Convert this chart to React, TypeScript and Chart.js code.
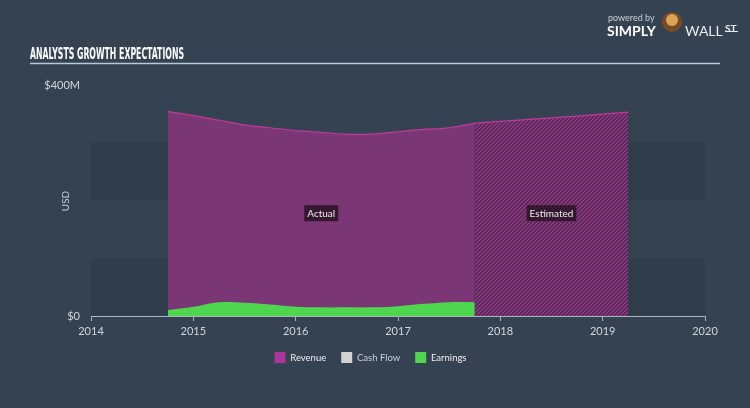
import React, { useEffect, useRef } from "react";
import { Chart, registerables } from "chart.js";
Chart.register(...registerables);

// ---- data (values in USD millions) ----
const actualYears = [2014.75, 2015.0, 2015.25, 2015.5, 2015.75, 2016.0, 2016.25, 2016.5, 2016.75, 2017.0, 2017.25, 2017.5, 2017.75];
const revenueActual = [354, 347, 339, 331, 326, 321, 318, 315, 315, 319, 323, 326, 334];
const earningsActual = [10, 16, 24, 23, 20, 16, 15, 15, 15, 17, 21, 24, 24];
const estimateYears = [2017.75, 2018.25, 2018.75, 2019.25];
const revenueEstimate = [334, 340, 346, 353];
const xTickYears = [2014, 2015, 2016, 2017, 2018, 2019, 2020];
const yTickValues = [0, 400];
const yTickLabels = ["$0", "$400M"];
const bandRanges = [[0, 100], [200, 300]];
const annotationLabels = ["Actual", "Estimated"];
const annotationYears = [2016.25, 2018.5];
const annotationValues = [178, 178];
const legendNames = ["Revenue", "Cash Flow", "Earnings"];
const legendColors = ["#aa369d", "#d2d2d2", "#4fd64f"];

const BG = "#344252";

function makeHatch(): CanvasPattern | string {
  const c = document.createElement("canvas");
  c.width = 4;
  c.height = 4;
  const g = c.getContext("2d");
  if (!g) return "#5a2c5a";
  g.fillStyle = "#4e2a52";
  g.fillRect(0, 0, 4, 4);
  g.strokeStyle = "#a83a93";
  g.lineWidth = 1.2;
  g.beginPath();
  g.moveTo(-1, 5);
  g.lineTo(5, -1);
  g.moveTo(-1, 1);
  g.lineTo(1, -1);
  g.moveTo(3, 5);
  g.lineTo(5, 3);
  g.stroke();
  const p = g.createPattern(c, "repeat");
  return p || "#5a2c5a";
}

const decorPlugin = {
  id: "decor",
  beforeDraw(chart: any) {
    const ctx = chart.ctx;
    const w = chart.width;
    const h = chart.height;
    ctx.save();
    ctx.fillStyle = BG;
    ctx.fillRect(0, 0, w, h);
    // title (condensed)
    ctx.save();
    ctx.fillStyle = "#ffffff";
    ctx.font = "bold 15px 'DejaVu Sans Condensed', 'Liberation Sans', sans-serif";
    ctx.textBaseline = "alphabetic";
    ctx.textAlign = "left";
    const title = "ANALYSTS GROWTH EXPECTATIONS";
    const tw = ctx.measureText(title).width;
    ctx.translate(30, 58.5);
    ctx.scale(154 / tw, 1);
    ctx.fillText(title, 0, 0);
    ctx.restore();
    ctx.strokeStyle = "#b9c9da";
    ctx.lineWidth = 1.5;
    ctx.beginPath();
    ctx.moveTo(30, 63.5);
    ctx.lineTo(720, 63.5);
    ctx.stroke();
    // logo
    ctx.fillStyle = "#c9d0d8";
    ctx.font = "9px Lato, sans-serif";
    ctx.fillText("powered by", 608, 18);
    ctx.fillStyle = "#ffffff";
    ctx.font = "bold 14px Lato, sans-serif";
    ctx.fillText("SIMPLY", 607, 31);
    ctx.fillStyle = "#7a4a24";
    ctx.beginPath();
    ctx.arc(672, 22, 10, 0, Math.PI * 2);
    ctx.fill();
    ctx.fillStyle = "#d9a55a";
    ctx.beginPath();
    ctx.arc(672, 20, 6, 0, Math.PI * 2);
    ctx.fill();
    ctx.fillStyle = "#e8ecf0";
    ctx.font = "14px Lato, sans-serif";
    ctx.fillText("WALL", 685, 31);
    ctx.font = "bold 10px Lato, sans-serif";
    ctx.fillText("ST", 725, 29);
    ctx.fillRect(725, 31, 13, 1);
    // USD axis title
    ctx.translate(66, 201);
    ctx.rotate(-Math.PI / 2);
    ctx.fillStyle = "#c8d0d8";
    ctx.font = "10px Lato, sans-serif";
    ctx.textAlign = "center";
    ctx.textBaseline = "middle";
    ctx.fillText("USD", 0, 0);
    ctx.restore();
  },
  beforeDatasetsDraw(chart: any) {
    const ctx = chart.ctx;
    const ys = chart.scales.y;
    const area = chart.chartArea;
    ctx.save();
    ctx.fillStyle = "rgba(30,40,52,0.18)";
    bandRanges.forEach(([a, b]) => {
      const y1 = ys.getPixelForValue(b);
      const y0 = ys.getPixelForValue(a);
      ctx.fillRect(area.left, y1, area.right - area.left, y0 - y1);
    });
    ctx.restore();
  },
  afterDatasetsDraw(chart: any) {
    const ctx = chart.ctx;
    const xs = chart.scales.x;
    const ys = chart.scales.y;
    ctx.save();
    ctx.font = "10px Lato, sans-serif";
    ctx.textAlign = "center";
    ctx.textBaseline = "middle";
    annotationLabels.forEach((t, i) => {
      const cx = xs.getPixelForValue(annotationYears[i]);
      const cy = ys.getPixelForValue(annotationValues[i]);
      const tw = ctx.measureText(t).width;
      ctx.fillStyle = "#35182f";
      ctx.fillRect(cx - tw / 2 - 3, cy - 8, tw + 6, 16);
      ctx.fillStyle = "#eeeeee";
      ctx.fillText(t, cx, cy + 0.5);
    });
    ctx.restore();
  },
};

export default function App() {
  const ref = useRef<HTMLCanvasElement | null>(null);
  useEffect(() => {
    if (!ref.current) return;
    const pts = (xs: number[], ys: number[]) => xs.map((x, i) => ({ x, y: ys[i] }));
    const chart = new Chart(ref.current, {
      type: "line",
      data: {
        datasets: [
          {
            label: "Earnings",
            data: pts(actualYears, earningsActual),
            backgroundColor: "#4fd64f",
            borderColor: "#4fd64f",
            borderWidth: 0,
            fill: "origin",
            pointRadius: 0,
            tension: 0.35,
            order: 0,
          },
          {
            label: "Revenue",
            data: pts(actualYears, revenueActual),
            backgroundColor: "#7a3675",
            borderColor: "#c0399b",
            borderWidth: 1.2,
            fill: "origin",
            pointRadius: 0,
            tension: 0.35,
            order: 1,
          },
          {
            label: "Revenue estimate",
            data: pts(estimateYears, revenueEstimate),
            backgroundColor: makeHatch() as any,
            borderColor: "#c0399b",
            borderWidth: 1.2,
            fill: "origin",
            pointRadius: 0,
            tension: 0.2,
            order: 2,
          },
          {
            label: "Cash Flow",
            data: [],
            backgroundColor: "#d2d2d2",
            borderColor: "#d2d2d2",
            pointRadius: 0,
            order: 3,
          },
        ],
      },
      options: {
        animation: false,
        responsive: false,
        devicePixelRatio: 1,
        layout: { padding: { top: 85, left: 36, right: 45, bottom: 35 } },
        plugins: {
          tooltip: { enabled: false },
          legend: {
            position: "bottom",
            labels: {
              boxWidth: 11,
              boxHeight: 11,
              padding: 15,
              color: "#e8ecf0",
              font: { size: 9.5, family: "Lato, sans-serif" },
              generateLabels: () =>
                legendNames.map((n, i) => ({
                  text: n,
                  fillStyle: legendColors[i],
                  strokeStyle: legendColors[i],
                  lineWidth: 0,
                  hidden: false,
                  fontColor: i === 1 ? "#c8d0d8" : "#eeeeee",
                  datasetIndex: i,
                })) as any,
            },
          },
        },
        scales: {
          x: {
            type: "linear",
            min: xTickYears[0],
            max: xTickYears[xTickYears.length - 1],
            afterBuildTicks: (s: any) => {
              s.ticks = xTickYears.map((v) => ({ value: v }));
            },
            afterFit: (s: any) => {
              s.height = 21;
            },
            ticks: {
              color: "#d0d6dc",
              font: { size: 11, family: "Lato, sans-serif" },
              padding: 4,
              autoSkip: false,
              maxRotation: 0,
              callback: (v: any) => String(v),
            },
            grid: {
              drawOnChartArea: false,
              drawTicks: true,
              tickLength: 5,
              color: "#aab5c2",
            },
            border: { display: true, color: "#aab5c2", width: 1 },
          },
          y: {
            type: "linear",
            min: 0,
            max: 400,
            afterBuildTicks: (s: any) => {
              s.ticks = yTickValues.map((v) => ({ value: v }));
            },
            afterFit: (s: any) => {
              s.width = 55;
            },
            ticks: {
              color: "#d0d6dc",
              font: { size: 11, family: "Lato, sans-serif" },
              padding: 3,
              callback: (v: any) => yTickLabels[yTickValues.indexOf(Number(v))] ?? "",
            },
            grid: { display: false },
            border: { display: false },
          },
        },
      },
      plugins: [decorPlugin],
    } as any);
    return () => chart.destroy();
  }, []);
  return (
    <div style={{ position: "fixed", left: 0, top: 0, width: 750, height: 408, background: BG }}>
      <canvas ref={ref} width={750} height={408} style={{ display: "block" }} />
    </div>
  );
}
